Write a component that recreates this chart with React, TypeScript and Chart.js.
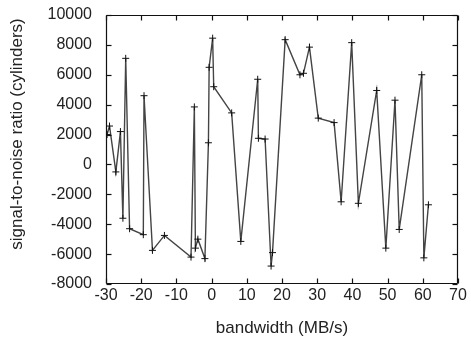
import React, { useEffect, useRef } from "react";
import { Chart, registerables } from "chart.js";

Chart.register(...registerables);

const bandwidth = [
  -29.7, -29.0, -27.2, -25.9, -25.2, -24.4, -23.3, -19.4, -19.2, -16.8,
  -13.4, -5.85, -4.9, -4.6, -3.9, -1.9, -0.9, -0.7, 0.3, 0.6,
  5.7, 8.3, 13.1, 13.3, 15.2, 16.9, 17.3, 20.9, 25.1, 26.1,
  27.8, 30.3, 34.8, 36.8, 39.8, 41.7, 46.9, 49.5, 52.1, 53.3,
  59.7, 60.3, 61.6,
];
const snr = [
  2000, 2570, -500, 2200, -3600, 7100, -4300, -4700, 4600, -5750,
  -4750, -6200, 3850, -5600, -5000, -6300, 1450, 6500, 8450, 5200,
  3450, -5150, 5700, 1750, 1700, -6800, -5900, 8350, 6000, 6100,
  7850, 3100, 2800, -2500, 8150, -2600, 4950, -5600, 4300, -4350,
  6000, -6250, -2700,
];
const xTicks = [-30, -20, -10, 0, 10, 20, 30, 40, 50, 60, 70];
const yTicks = [-8000, -6000, -4000, -2000, 0, 2000, 4000, 6000, 8000, 10000];
const xTitle = "bandwidth (MB/s)";
const yTitle = "signal-to-noise ratio (cylinders)";

const FONT = "'Liberation Sans', Arial, Helvetica, sans-serif";

const framePlugin = {
  id: "frame",
  afterDraw(chart: any) {
    const { ctx } = chart;
    const xs = chart.scales.x;
    const ys = chart.scales.y;
    ctx.save();
    ctx.strokeStyle = "#111";
    ctx.lineWidth = 1.2;
    const L = Math.round(xs.getPixelForValue(xTicks[0])) + 0.5;
    const R = Math.round(xs.getPixelForValue(xTicks[xTicks.length - 1])) - 0.5;
    const T = Math.round(ys.getPixelForValue(yTicks[yTicks.length - 1])) + 0.5;
    const B = Math.round(ys.getPixelForValue(yTicks[0])) - 0.5;
    const seg = (x1: number, y1: number, x2: number, y2: number) => {
      ctx.beginPath();
      ctx.moveTo(x1, y1);
      ctx.lineTo(x2, y2);
      ctx.stroke();
    };
    seg(L, T, R, T);
    seg(R, T, R, B);
    seg(L, B, R, B);
    seg(L, T, L, B);
    const tl = 5;
    xTicks.forEach((v) => {
      const px = Math.round(xs.getPixelForValue(v)) + 0.5;
      seg(px, B, px, B - tl);
      seg(px, T, px, T + tl);
    });
    yTicks.forEach((v) => {
      const py = Math.round(ys.getPixelForValue(v)) + 0.5;
      seg(L, py, L + tl, py);
      seg(R, py, R - tl, py);
    });
    // y axis title
    ctx.fillStyle = "#222";
    ctx.font = `17px ${FONT}`;
    ctx.textAlign = "center";
    ctx.textBaseline = "middle";
    ctx.translate(17, 134);
    ctx.rotate(-Math.PI / 2);
    ctx.fillText(yTitle, 0, 0);
    ctx.restore();
  },
};

export default function App() {
  const ref = useRef<HTMLCanvasElement | null>(null);
  useEffect(() => {
    if (!ref.current) return;
    const data = bandwidth.map((x, i) => ({ x, y: snr[i] }));
    const chart = new Chart(ref.current, {
      type: "scatter",
      data: {
        datasets: [
          {
            data,
            showLine: true,
            borderColor: "#444",
            borderWidth: 1.4,
            pointStyle: "cross",
            pointRadius: 3.5,
            pointBorderColor: "#111",
            pointBorderWidth: 1,
            pointBackgroundColor: "#111",
            tension: 0,
          },
        ],
      },
      options: {
        animation: false,
        responsive: true,
        maintainAspectRatio: false,
        layout: { padding: { top: 15, right: 13, left: 0, bottom: 0 } },
        plugins: { legend: { display: false }, tooltip: { enabled: false } },
        scales: {
          x: {
            type: "linear",
            min: -30,
            max: 70,
            afterBuildTicks: (s: any) => {
              s.ticks = xTicks.map((v) => ({ value: v }));
            },
            afterFit: (s: any) => {
              s.height = 58;
            },
            grid: { display: false, drawTicks: false },
            border: { display: false },
            ticks: {
              color: "#222",
              padding: 2,
              maxRotation: 0,
              autoSkip: false,
              font: { family: FONT, size: 16 },
            },
            title: {
              display: true,
              text: xTitle,
              color: "#222",
              padding: { top: 0, bottom: 3 },
              font: { family: FONT, size: 17 },
            },
          },
          y: {
            type: "linear",
            min: -8000,
            max: 10000,
            afterBuildTicks: (s: any) => {
              s.ticks = yTicks.map((v) => ({ value: v }));
            },
            afterFit: (s: any) => {
              s.width = 106;
              s.paddingTop = 0;
              s.paddingBottom = 0;
            },
            grid: { display: false, drawTicks: false },
            border: { display: false },
            ticks: {
              color: "#222",
              padding: 14,
              autoSkip: false,
              font: { family: FONT, size: 16 },
              callback: (v: any) => String(v),
            },
          },
        },
      },
      plugins: [framePlugin],
    });
    return () => chart.destroy();
  }, []);
  return (
    <div style={{ position: "fixed", left: 0, top: 0, width: 471, height: 342, background: "#fff" }}>
      <canvas ref={ref} />
    </div>
  );
}
